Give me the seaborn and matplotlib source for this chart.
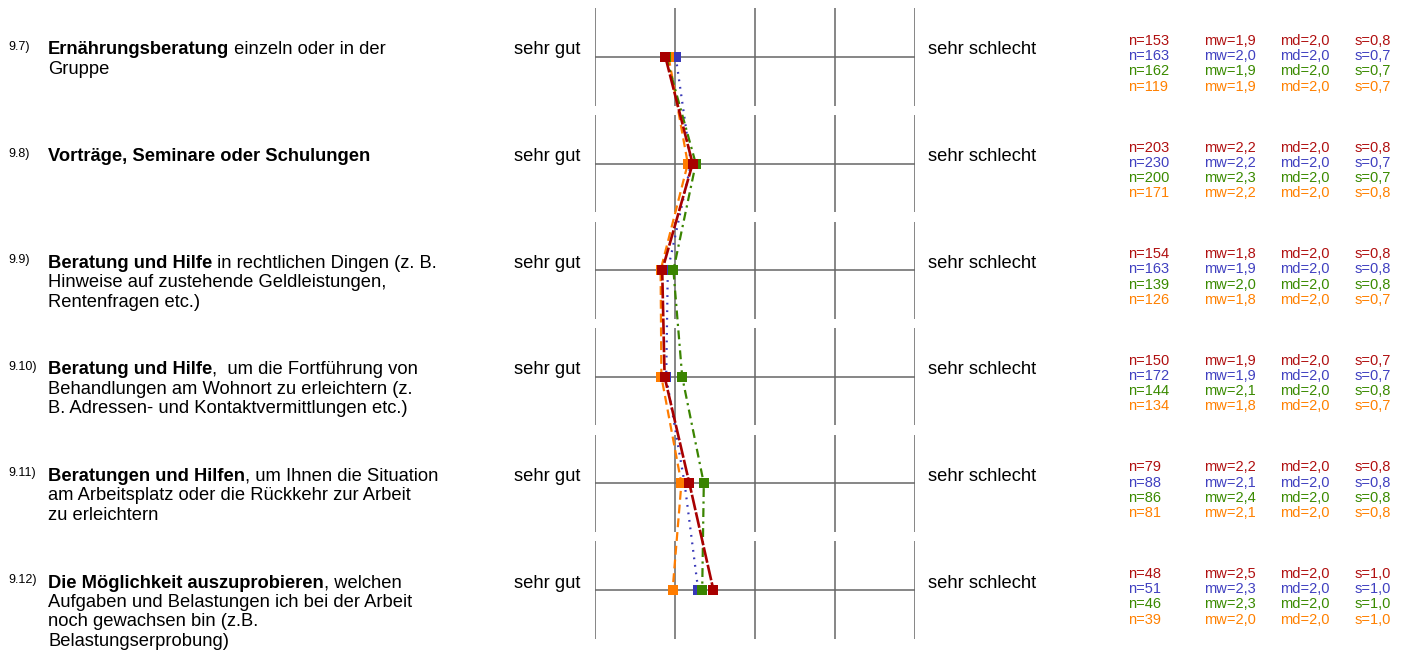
import pandas as pd
import seaborn as sns
import matplotlib.pyplot as plt

# ---- data ----
item_ids = ["9.7)", "9.8)", "9.9)", "9.10)", "9.11)", "9.12)"]
item_bold = ["Ernährungsberatung", "Vorträge, Seminare oder Schulungen", "Beratung und Hilfe",
             "Beratung und Hilfe", "Beratungen und Hilfen", "Die Möglichkeit auszuprobieren"]
item_rest = [
    [" einzeln oder in der", "Gruppe"],
    [""],
    [" in rechtlichen Dingen (z. B.", "Hinweise auf zustehende Geldleistungen,", "Rentenfragen etc.)"],
    [",  um die Fortführung von", "Behandlungen am Wohnort zu erleichtern (z.",
     "B. Adressen- und Kontaktvermittlungen etc.)"],
    [", um Ihnen die Situation", "am Arbeitsplatz oder die Rückkehr zur Arbeit", "zu erleichtern"],
    [", welchen", "Aufgaben und Belastungen ich bei der Arbeit", "noch gewachsen bin (z.B.",
     "Belastungserprobung)"],
]
scale_labels = ["sehr gut", "sehr schlecht"]
groups = ["red", "blue", "green", "orange"]

red_vals = [1.88, 2.22, 1.84, 1.87, 2.18, 2.48]
blue_vals = [2.01, 2.20, 1.91, 1.89, 2.12, 2.29]
green_vals = [1.89, 2.26, 1.98, 2.09, 2.36, 2.34]
orange_vals = [1.92, 2.16, 1.82, 1.83, 2.08, 1.97]

n_red = [153, 203, 154, 150, 79, 48]
n_blue = [163, 230, 163, 172, 88, 51]
n_green = [162, 200, 139, 144, 86, 46]
n_orange = [119, 171, 126, 134, 81, 39]

mw_red = ["1,9", "2,2", "1,8", "1,9", "2,2", "2,5"]
mw_blue = ["2,0", "2,2", "1,9", "1,9", "2,1", "2,3"]
mw_green = ["1,9", "2,3", "2,0", "2,1", "2,4", "2,3"]
mw_orange = ["1,9", "2,2", "1,8", "1,8", "2,1", "2,0"]

md_all = ["2,0", "2,0", "2,0", "2,0", "2,0", "2,0"]

s_red = ["0,8", "0,8", "0,8", "0,7", "0,8", "1,0"]
s_blue = ["0,7", "0,7", "0,8", "0,7", "0,8", "1,0"]
s_green = ["0,7", "0,7", "0,8", "0,8", "0,8", "1,0"]
s_orange = ["0,7", "0,8", "0,7", "0,7", "0,8", "1,0"]

colors = {"red": "#a80000", "blue": "#3838b8", "green": "#3a8400", "orange": "#ff7c00"}
text_colors = {"red": "#b01010", "blue": "#4040c0", "green": "#3a8a00", "orange": "#ff8000"}
line_styles = {"red": (0, (6, 0.8)), "blue": (0, (0.8, 2.6)), "green": (0, (4, 2, 1, 2)),
               "orange": (0, (4, 2.2))}
line_widths = {"red": 1.9, "blue": 1.6, "green": 1.6, "orange": 1.6}

series = {"red": red_vals, "blue": blue_vals, "green": green_vals, "orange": orange_vals}
stats = {
    "red": (n_red, mw_red, s_red),
    "blue": (n_blue, mw_blue, s_blue),
    "green": (n_green, mw_green, s_green),
    "orange": (n_orange, mw_orange, s_orange),
}

rows = list(range(len(item_ids)))
df = pd.concat([pd.DataFrame({"row": rows, "value": series[g], "group": g}) for g in groups])

# ---- figure ----
sns.set_style("white")
plt.rcParams["font.family"] = ["Liberation Sans", "DejaVu Sans"]
plt.rcParams["text.color"] = "black"

W, H = 1409, 653
fig = plt.figure(figsize=(W / 100, H / 100), dpi=100)

row0_px, row_step = 57, 106.6
ax_left, ax_right = 595, 915
ax_top = row0_px - 0.5 * row_step
ax_bot = row0_px + 5.5 * row_step
ax = fig.add_axes([ax_left / W, 1 - ax_bot / H, (ax_right - ax_left) / W, (ax_bot - ax_top) / H])
ax.set_xlim(1, 5)
ax.set_ylim(5.5, -0.5)
ax.axis("off")

# grid: one block per item
grid_col = "#666666"
for r in rows:
    ax.vlines([1, 2, 3, 4, 5], r - 0.455, r + 0.455, color=grid_col, lw=1.1, zorder=1)
    ax.hlines(r, 1, 5, color=grid_col, lw=1.1, zorder=1)

# profile lines (draw order controls overlap)
for z, g in enumerate(["blue", "orange", "green", "red"]):
    sub = df[df["group"] == g]
    sns.lineplot(data=sub, x="value", y="row", orient="y", sort=False, ax=ax,
                 color=colors[g], linestyle=line_styles[g], lw=line_widths[g],
                 marker="s", markersize=6.8, markeredgewidth=0, zorder=3 + z,
                 legend=False, clip_on=False)
ax.set_xlabel("")
ax.set_ylabel("")


def fx(px):
    return px / W


def fy(py):
    return 1 - py / H


big = 13.2
fig.canvas.draw()
renderer = fig.canvas.get_renderer()

for r in rows:
    yc = row0_px + r * row_step
    # item number
    fig.text(fx(8), fy(yc - 10), item_ids[r], fontsize=9, va="center", ha="left")
    # item text: bold lead-in, then regular
    line_y = yc - 7
    tb = fig.text(fx(48), fy(line_y), item_bold[r], fontsize=big, fontweight="bold",
                  va="center", ha="left")
    bb = tb.get_window_extent(renderer)
    rest = item_rest[r]
    if rest[0]:
        fig.text(bb.x1 / W, fy(line_y), rest[0], fontsize=big, va="center", ha="left")
    for k, ln in enumerate(rest[1:], start=1):
        fig.text(fx(48), fy(line_y + k * 19.5), ln, fontsize=big, va="center", ha="left")

    # scale anchors
    fig.text(fx(580), fy(yc - 7), scale_labels[0], fontsize=big, va="center", ha="right")
    fig.text(fx(928), fy(yc - 7), scale_labels[1], fontsize=big, va="center", ha="left")

    # statistics block
    for k, g in enumerate(groups):
        n_list, mw_list, s_list = stats[g]
        sy = fy(yc - 16 + k * 15.2)
        c = text_colors[g]
        fig.text(fx(1128), sy, f"n={n_list[r]}", fontsize=10.5, color=c, va="center")
        fig.text(fx(1204), sy, f"mw={mw_list[r]}", fontsize=10.5, color=c, va="center")
        fig.text(fx(1280), sy, f"md={md_all[r]}", fontsize=10.5, color=c, va="center")
        fig.text(fx(1355), sy, f"s={s_list[r]}", fontsize=10.5, color=c, va="center")

fig.savefig("out.png", dpi=100, facecolor="white")
